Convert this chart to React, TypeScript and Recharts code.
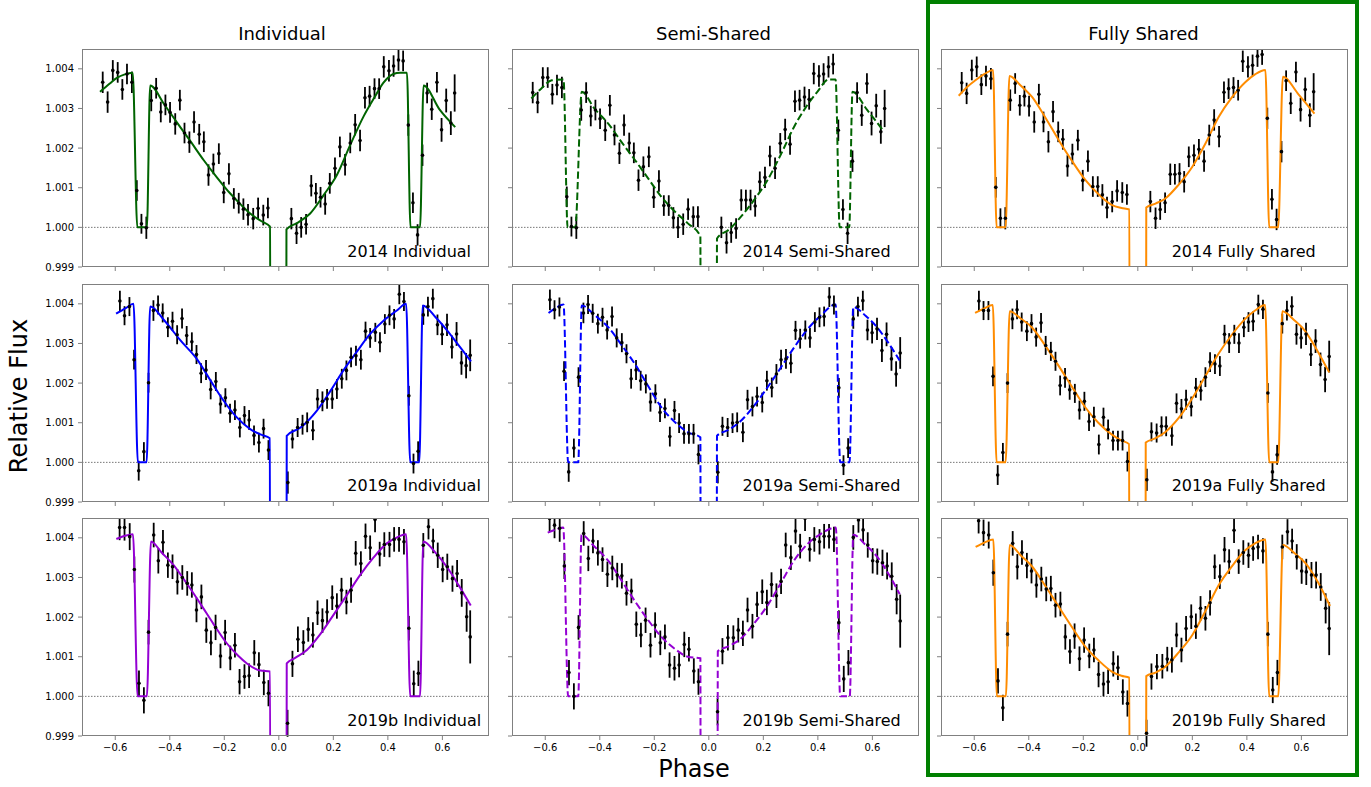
import React from "react";
import {
  ComposedChart,
  Scatter,
  Line,
  XAxis,
  YAxis,
  ErrorBar,
  ReferenceLine,
} from "recharts";

// ---- phases (shared by the three fits of one observing season) ----
const phase2014 = [
  -0.646, -0.628, -0.609, -0.591, -0.574, -0.557, -0.539, -0.521, -0.504, -0.486,
  -0.468, -0.45, -0.433, -0.416, -0.399, -0.38, -0.363, -0.346, -0.328, -0.311,
  -0.292, -0.275, -0.258, -0.24, -0.22, -0.202, -0.183, -0.165, -0.147, -0.13,
  -0.113, -0.094, -0.076, -0.057, -0.04,
  0.046, 0.065, 0.082, 0.1, 0.119, 0.136, 0.153, 0.17, 0.187, 0.206,
  0.224, 0.243, 0.262, 0.28, 0.298, 0.316, 0.333, 0.351, 0.368, 0.385,
  0.404, 0.421, 0.439, 0.456, 0.475, 0.492, 0.509, 0.527, 0.544, 0.561,
  0.58, 0.597, 0.614, 0.631, 0.645,
];
const phase2019a = [
  -0.583, -0.566, -0.548, -0.531, -0.514, -0.495, -0.478, -0.46, -0.443, -0.426,
  -0.407, -0.39, -0.373, -0.355, -0.338, -0.319, -0.302, -0.285, -0.267, -0.25,
  -0.231, -0.214, -0.196, -0.179, -0.161, -0.143, -0.126, -0.109, -0.091, -0.073,
  -0.056, -0.038,
  0.033, 0.05, 0.069, 0.087, 0.104, 0.125, 0.142, 0.16, 0.177, 0.196,
  0.213, 0.231, 0.248, 0.265, 0.283, 0.301, 0.318, 0.335, 0.354, 0.371,
  0.389, 0.406, 0.423, 0.442, 0.459, 0.477, 0.494, 0.511, 0.53, 0.547,
  0.565, 0.582, 0.599, 0.617, 0.635, 0.652, 0.67, 0.687, 0.702,
];
const phase2019b = [
  -0.584, -0.566, -0.547, -0.53, -0.513, -0.495, -0.478, -0.459, -0.442, -0.425,
  -0.407, -0.39, -0.372, -0.354, -0.336, -0.319, -0.302, -0.284, -0.266, -0.249,
  -0.232, -0.214, -0.197, -0.178, -0.161, -0.144, -0.126, -0.109, -0.09, -0.073,
  -0.055, -0.038,
  0.032, 0.05, 0.07, 0.09, 0.108, 0.125, 0.142, 0.16, 0.177, 0.196,
  0.213, 0.23, 0.248, 0.265, 0.282, 0.301, 0.318, 0.335, 0.353, 0.37,
  0.387, 0.406, 0.423, 0.441, 0.459, 0.477, 0.495, 0.512, 0.53, 0.549,
  0.566, 0.583, 0.601, 0.618, 0.637, 0.654, 0.671, 0.689, 0.702,
];

// ---- error bars ----
const err2014 = [
  0.00027, 0.00027, 0.00026, 0.00026, 0.00026, 0.00026, 0.00027, 0.00026, 0.00025, 0.00028,
  0.00027, 0.00026, 0.00026, 0.00026, 0.00026, 0.00027, 0.00026, 0.00026, 0.00027, 0.00027,
  0.00026, 0.00026, 0.00027, 0.00026, 0.00026, 0.00027, 0.00027, 0.00026, 0.00026, 0.00027,
  0.00027, 0.00027, 0.00027, 0.00026, 0.00026,
  0.00027, 0.00027, 0.00026, 0.00026, 0.00027, 0.00026, 0.00026, 0.00027, 0.00026, 0.00027,
  0.00026, 0.00027, 0.00026, 0.00027, 0.00027, 0.00027, 0.00026, 0.00026, 0.00026, 0.00027,
  0.00027, 0.00027, 0.00027, 0.00026, 0.00027, 0.00026, 0.00027, 0.00027, 0.00026, 0.00027,
  0.00026, 0.0003, 0.0003, 0.0003, 0.00047,
];
const err2019a = [
  0.00026, 0.00024, 0.00024, 0.00025, 0.00025, 0.00024, 0.00025, 0.00026, 0.00024, 0.00024,
  0.00025, 0.00024, 0.00024, 0.00025, 0.00024, 0.00024, 0.00024, 0.00025, 0.00025, 0.00025,
  0.00024, 0.00024, 0.00024, 0.00024, 0.00025, 0.00025, 0.00024, 0.00025, 0.00025, 0.00025,
  0.00025, 0.00025,
  0.00028, 0.00024, 0.00024, 0.00025, 0.00025, 0.00025, 0.00025, 0.00025, 0.00025, 0.00025,
  0.00025, 0.00025, 0.00025, 0.00025, 0.00025, 0.00025, 0.00024, 0.00025, 0.00024, 0.00025,
  0.00025, 0.00025, 0.00025, 0.00025, 0.00024, 0.00025, 0.00025, 0.00025, 0.00025, 0.00025,
  0.00025, 0.00026, 0.00027, 0.00028, 0.00029, 0.0003, 0.0003, 0.00032, 0.0004,
];
const err2019b = [
  0.00032, 0.00033, 0.00034, 0.00033, 0.00032, 0.00033, 0.00031, 0.00031, 0.00032, 0.00031,
  0.00032, 0.00031, 0.00032, 0.00031, 0.00031, 0.00032, 0.00031, 0.00031, 0.00032, 0.00031,
  0.00032, 0.00031, 0.00032, 0.00031, 0.00031, 0.00032, 0.00031, 0.00031, 0.00032, 0.00031,
  0.00032, 0.00033,
  0.00034, 0.00033, 0.00032, 0.00031, 0.00031, 0.00032, 0.00031, 0.00031, 0.00032, 0.00031,
  0.00032, 0.00031, 0.00031, 0.00032, 0.00031, 0.00031, 0.00032, 0.00031, 0.00032, 0.00031,
  0.00031, 0.00032, 0.00031, 0.00031, 0.00032, 0.00031, 0.00033, 0.00032, 0.00031, 0.00032,
  0.00031, 0.00032, 0.00032, 0.00033, 0.00033, 0.00034, 0.00035, 0.00038, 0.00067,
];

// ---- detrended fluxes ----
const flux2014Individual = [
  1.00366, 1.00316, 1.00396, 1.00391, 1.00348, 1.00387, 1.00366, 1.00093, 1.00009, 0.99999,
  1.0032, 1.00351, 1.00291, 1.00309, 1.0029, 1.00261, 1.00321, 1.00238, 1.00215, 1.00266,
  1.00235, 1.00216, 1.00132, 1.0016, 1.00186, 1.00088, 1.00135, 1.00073, 1.00061, 1.00046,
  1.00032, 1.00022, 1.00048, 1.00031, 1.00049,
  1.00022, 0.99985, 1.0, 1.00008, 1.00105, 1.00086, 1.00076, 1.00059, 1.00111, 1.00149,
  1.00203, 1.00158, 1.00213, 1.00259, 1.00219, 1.00327, 1.00331, 1.0035, 1.0035, 1.00405,
  1.00395, 1.00407, 1.00422, 1.0042, 1.00258, 1.00062, 0.99981, 1.00182, 1.00339, 1.00298,
  1.00366, 1.00246, 1.0032, 1.00263, 1.00339,
];
const flux2014Semi = [
  1.0034, 1.00315, 1.00378, 1.00378, 1.00336, 1.00359, 1.00353, 1.00077, 1.00002, 0.99999,
  1.00296, 1.0034, 1.00281, 1.00296, 1.00274, 1.00245, 1.00308, 1.00233, 1.00187, 1.00258,
  1.00213, 1.00188, 1.00119, 1.00153, 1.00178, 1.00076, 1.00117, 1.00055, 1.00055, 1.00024,
  1.0, 1.00008, 1.00046, 1.00027, 1.00027,
  1.0, 0.99961, 0.99987, 0.99997, 1.00069, 1.00069, 1.00069, 1.00054, 1.00115, 1.00126,
  1.0018, 1.00149, 1.00212, 1.00247, 1.0021, 1.00318, 1.00321, 1.00329, 1.00323, 1.00388,
  1.00382, 1.00387, 1.00405, 1.00412, 1.00245, 1.00045, 0.99985, 1.00167, 1.0034, 1.00283,
  1.00363, 1.00262, 1.00307, 1.00241, 1.003,
];
const flux2014Fully = [
  1.00365, 1.00338, 1.00397, 1.00405, 1.0036, 1.00382, 1.00375, 1.00101, 1.00023, 1.00023,
  1.00321, 1.00363, 1.00308, 1.00331, 1.00306, 1.00266, 1.00336, 1.00266, 1.00216, 1.00292,
  1.00241, 1.00222, 1.00155, 1.00185, 1.0022, 1.00118, 1.00167, 1.00103, 1.00103, 1.00082,
  1.0005, 1.00065, 1.00092, 1.00088, 1.00083,
  1.00065, 1.00023, 1.00045, 1.00062, 1.00134, 1.00134, 1.00136, 1.00115, 1.00178, 1.00182,
  1.00197, 1.00167, 1.00233, 1.00271, 1.00229, 1.00341, 1.0035, 1.00353, 1.00346, 1.00419,
  1.00405, 1.00409, 1.00432, 1.00436, 1.00275, 1.00071, 1.0002, 1.00191, 1.0037, 1.00313,
  1.00392, 1.00297, 1.00348, 1.00283, 1.00342,
];
const flux2019aIndividual = [
  1.00407, 1.0037, 1.00393, 1.00259, 0.99979, 1.00027, 1.00201, 1.00383, 1.00397, 1.00377,
  1.00341, 1.00356, 1.00322, 1.00363, 1.0032, 1.00304, 1.00272, 1.00225, 1.00233, 1.00184,
  1.00204, 1.00147, 1.00163, 1.00124, 1.00132, 1.00088, 1.00118, 1.00107, 1.00068, 1.0005,
  1.00085, 1.00031,
  0.99949, 1.00059, 1.00088, 1.00095, 1.00101, 1.00081, 1.0016, 1.00154, 1.0016, 1.0016,
  1.00185, 1.00211, 1.00232, 1.00265, 1.00269, 1.00259, 1.00331, 1.00314, 1.00328, 1.00303,
  1.00349, 1.00371, 1.00362, 1.00424, 1.00406, 1.00168, 0.99997, 1.00028, 1.00372, 1.00393,
  1.00413, 1.00347, 1.00323, 1.00347, 1.00291, 1.00324, 1.00251, 1.00244, 1.0027,
];
const flux2019aSemi = [
  1.0041, 1.00385, 1.00392, 1.0023, 0.99976, 1.00036, 1.00215, 1.00377, 1.00398, 1.00376,
  1.0035, 1.00366, 1.00334, 1.00368, 1.00314, 1.00302, 1.00274, 1.00211, 1.00233, 1.00206,
  1.00198, 1.00152, 1.00173, 1.00126, 1.00136, 1.00065, 1.00131, 1.00099, 1.00072, 1.00072,
  1.00072, 1.0002,
  0.99975, 1.00091, 1.00088, 1.00099, 1.00101, 1.00076, 1.00158, 1.00141, 1.00166, 1.00151,
  1.00206, 1.00189, 1.00223, 1.00259, 1.00261, 1.0025, 1.00333, 1.00312, 1.00334, 1.00314,
  1.00354, 1.00366, 1.00368, 1.00417, 1.00397, 1.00188, 0.99993, 1.00036, 1.00362, 1.00393,
  1.00408, 1.00334, 1.00327, 1.00337, 1.00282, 1.00323, 1.00261, 1.00223, 1.00276,
];
const flux2019aFully = [
  1.00407, 1.00383, 1.00383, 1.00217, 0.99968, 1.00025, 1.002, 1.00362, 1.00385, 1.00354,
  1.00331, 1.0035, 1.00316, 1.00352, 1.00295, 1.0028, 1.00255, 1.00194, 1.00213, 1.00183,
  1.00174, 1.00132, 1.00154, 1.00103, 1.00115, 1.00045, 1.00114, 1.00083, 1.00055, 1.00055,
  1.00055, 1.00002,
  0.99956, 1.00077, 1.00074, 1.00091, 1.00091, 1.00067, 1.00149, 1.00135, 1.00158, 1.00141,
  1.00188, 1.00181, 1.00215, 1.00253, 1.00248, 1.00243, 1.00323, 1.00301, 1.00323, 1.00301,
  1.00341, 1.00354, 1.00356, 1.00398, 1.00386, 1.00175, 0.99976, 1.00019, 1.0035, 1.00383,
  1.00394, 1.00323, 1.00314, 1.00324, 1.00272, 1.00306, 1.00247, 1.00209, 1.00267,
];
const flux2019bIndividual = [
  1.00426, 1.00426, 1.00403, 1.0032, 1.00033, 0.9999, 1.00162, 1.00407, 1.00342, 1.00389,
  1.00331, 1.00327, 1.00289, 1.003, 1.00285, 1.00281, 1.00218, 1.00251, 1.00167, 1.00135,
  1.00174, 1.00102, 1.00161, 1.00097, 1.00129, 1.00037, 1.0005, 1.00052, 1.0011, 1.0008,
  1.00035, 1.00008,
  0.99932, 1.00082, 1.00144, 1.00136, 1.00169, 1.00155, 1.00211, 1.00191, 1.00213, 1.00249,
  1.00228, 1.00268, 1.00238, 1.00268, 1.00361, 1.00335, 1.00404, 1.00375, 1.00446, 1.00359,
  1.00383, 1.00383, 1.00396, 1.00396, 1.0039, 1.00172, 1.00032, 1.00058, 1.00381, 1.00428,
  1.00392, 1.00356, 1.0032, 1.00327, 1.00297, 1.0031, 1.00261, 1.00201, 1.0015,
];
const flux2019bSemi = [
  1.00449, 1.00432, 1.00424, 1.00329, 1.0006, 1.0, 1.00174, 1.00411, 1.00348, 1.00392,
  1.00362, 1.00345, 1.00308, 1.00324, 1.00306, 1.00304, 1.0026, 1.00266, 1.00182, 1.00155,
  1.00192, 1.00129, 1.0018, 1.00135, 1.0015, 1.00079, 1.00071, 1.00079, 1.00131, 1.00119,
  1.00064, 1.00037,
  0.99961, 1.00114, 1.00148, 1.00148, 1.00167, 1.00159, 1.00218, 1.00177, 1.00232, 1.00264,
  1.00237, 1.00282, 1.00254, 1.0029, 1.00382, 1.0035, 1.00417, 1.00379, 1.00449, 1.00371,
  1.00396, 1.0039, 1.00404, 1.00404, 1.00396, 1.00186, 1.00044, 1.00085, 1.00401, 1.00445,
  1.0042, 1.00382, 1.00342, 1.0034, 1.00337, 1.00329, 1.00303, 1.00245, 1.0019,
];
const flux2019bFully = [
  1.00443, 1.00413, 1.00407, 1.00312, 1.00039, 0.99971, 1.00157, 1.00386, 1.00327, 1.00363,
  1.0033, 1.00316, 1.00281, 1.00296, 1.00271, 1.00272, 1.0023, 1.00233, 1.0015, 1.00113,
  1.00152, 1.00095, 1.00142, 1.00102, 1.00117, 1.00055, 1.00031, 1.00037, 1.00082, 1.00072,
  1.00011, 0.99982,
  0.99907, 1.0005, 1.00075, 1.00076, 1.00094, 1.00092, 1.00155, 1.00117, 1.00171, 1.00201,
  1.00177, 1.00222, 1.00197, 1.00236, 1.00327, 1.00302, 1.0037, 1.0034, 1.00419, 1.0034,
  1.00363, 1.00356, 1.00373, 1.00377, 1.00367, 1.00157, 1.00016, 1.0006, 1.00377, 1.00415,
  1.00392, 1.00352, 1.00316, 1.00314, 1.00306, 1.00306, 1.00276, 1.00222, 1.00171,
];

// ---- best-fit models (phase, flux) ----
const model2014IndividualX = [-0.656, -0.62, -0.594, -0.565, -0.536, -0.519, -0.484, -0.472, -0.42, -0.374, -0.325, -0.276, -0.228, -0.179, -0.14, -0.105, -0.065, -0.032, -0.03, 0.026, 0.028, 0.07, 0.115, 0.165, 0.213, 0.262, 0.311, 0.35, 0.384, 0.42, 0.445, 0.47, 0.483, 0.518, 0.531, 0.59, 0.647];
const model2014IndividualY = [1.00342, 1.00363, 1.00377, 1.00386, 1.0039, 1.0, 1.0, 1.00358, 1.0031, 1.00265, 1.00218, 1.0017, 1.00127, 1.00086, 1.00058, 1.00035, 1.00016, 1.00002, 0.99, 0.99, 0.99995, 1.00012, 1.00035, 1.00082, 1.00132, 1.00208, 1.0028, 1.00327, 1.00365, 1.00387, 1.0039, 1.0039, 1.0, 1.0, 1.00358, 1.00297, 1.00253];
const model2014SemiX = [-0.651, -0.615, -0.576, -0.533, -0.518, -0.49, -0.466, -0.42, -0.369, -0.32, -0.271, -0.222, -0.174, -0.125, -0.077, -0.031, -0.029, 0.028, 0.03, 0.075, 0.118, 0.165, 0.215, 0.265, 0.313, 0.355, 0.398, 0.44, 0.465, 0.48, 0.515, 0.527, 0.58, 0.639];
const model2014SemiY = [1.00325, 1.0035, 1.00371, 1.00373, 1.0, 1.0, 1.00342, 1.003, 1.00262, 1.00215, 1.0017, 1.00123, 1.00077, 1.0004, 1.0001, 0.99978, 0.99, 0.99, 0.99972, 0.99995, 1.00027, 1.00068, 1.00119, 1.00185, 1.00254, 1.00302, 1.00342, 1.00373, 1.00373, 1.0, 1.0, 1.00342, 1.00297, 1.00245];
const model2014FullyX = [-0.657, -0.625, -0.596, -0.56, -0.531, -0.518, -0.485, -0.471, -0.43, -0.388, -0.34, -0.29, -0.24, -0.192, -0.143, -0.094, -0.06, -0.031, -0.029, 0.029, 0.031, 0.065, 0.101, 0.15, 0.2, 0.25, 0.297, 0.345, 0.395, 0.43, 0.468, 0.482, 0.515, 0.532, 0.59, 0.648];
const model2014FullyY = [1.00332, 1.00355, 1.00371, 1.00388, 1.00397, 1.0, 1.0, 1.00382, 1.00358, 1.00329, 1.00278, 1.0022, 1.00166, 1.00119, 1.00083, 1.00056, 1.00049, 1.00045, 0.99, 0.99, 1.0005, 1.0006, 1.00073, 1.00108, 1.00153, 1.00214, 1.00279, 1.00328, 1.00367, 1.00386, 1.00397, 1.0, 1.0, 1.0038, 1.00335, 1.00287];
const model2019aIndividualX = [-0.597, -0.56, -0.533, -0.517, -0.485, -0.472, -0.42, -0.36, -0.301, -0.25, -0.203, -0.155, -0.105, -0.065, -0.033, -0.031, 0.027, 0.029, 0.08, 0.139, 0.19, 0.237, 0.285, 0.335, 0.385, 0.433, 0.467, 0.482, 0.515, 0.528, 0.575, 0.617, 0.66, 0.705];
const model2019aIndividualY = [1.00375, 1.0039, 1.004, 1.0, 1.0, 1.00393, 1.00358, 1.00307, 1.00261, 1.00206, 1.00156, 1.00114, 1.00084, 1.0007, 1.00061, 0.99, 0.99, 1.00067, 1.00088, 1.0013, 1.00181, 1.00232, 1.00278, 1.00324, 1.00358, 1.00383, 1.004, 1.0, 1.0, 1.00396, 1.00366, 1.00333, 1.00295, 1.00255];
const model2019aSemiX = [-0.588, -0.56, -0.533, -0.516, -0.479, -0.466, -0.42, -0.369, -0.32, -0.271, -0.222, -0.174, -0.125, -0.077, -0.031, -0.029, 0.028, 0.03, 0.075, 0.118, 0.165, 0.215, 0.265, 0.313, 0.36, 0.41, 0.465, 0.482, 0.516, 0.53, 0.575, 0.617, 0.66, 0.7];
const model2019aSemiY = [1.00377, 1.0039, 1.00398, 1.0, 1.0, 1.00396, 1.00372, 1.00341, 1.00296, 1.00248, 1.00192, 1.00139, 1.00102, 1.00076, 1.00063, 0.99, 0.99, 1.00067, 1.00083, 1.00105, 1.00142, 1.00189, 1.0024, 1.0029, 1.00334, 1.0037, 1.00398, 1.0, 1.0, 1.00392, 1.0037, 1.00341, 1.003, 1.00257];
const model2019aFullyX = [-0.597, -0.565, -0.532, -0.518, -0.485, -0.47, -0.43, -0.389, -0.34, -0.291, -0.242, -0.193, -0.145, -0.095, -0.06, -0.032, -0.03, 0.027, 0.029, 0.065, 0.1, 0.15, 0.198, 0.248, 0.296, 0.345, 0.394, 0.43, 0.467, 0.482, 0.515, 0.53, 0.575, 0.613, 0.66, 0.702];
const model2019aFullyY = [1.00377, 1.00388, 1.00397, 1.0, 1.0, 1.00381, 1.00363, 1.00341, 1.00295, 1.00244, 1.00191, 1.00139, 1.001, 1.0007, 1.00055, 1.00046, 0.99, 0.99, 1.0005, 1.00061, 1.00076, 1.00112, 1.0016, 1.00218, 1.00274, 1.00322, 1.00362, 1.00383, 1.00397, 1.0, 1.0, 1.00381, 1.00358, 1.00332, 1.0028, 1.00227];
const model2019bIndividualX = [-0.596, -0.565, -0.535, -0.518, -0.484, -0.469, -0.43, -0.386, -0.337, -0.288, -0.24, -0.191, -0.15, -0.117, -0.068, -0.032, -0.03, 0.027, 0.029, 0.06, 0.103, 0.15, 0.2, 0.25, 0.298, 0.347, 0.396, 0.43, 0.467, 0.482, 0.518, 0.53, 0.575, 0.616, 0.66, 0.704];
const model2019bIndividualY = [1.00397, 1.00405, 1.00409, 1.0, 1.0, 1.00391, 1.00363, 1.00331, 1.00284, 1.00234, 1.00183, 1.00134, 1.00103, 1.00083, 1.00065, 1.00063, 0.99, 0.99, 1.00083, 1.00097, 1.00117, 1.00155, 1.00205, 1.00256, 1.00306, 1.0035, 1.00386, 1.004, 1.00409, 1.0, 1.0, 1.00391, 1.00362, 1.00327, 1.0028, 1.00229];
const model2019bSemiX = [-0.591, -0.56, -0.534, -0.516, -0.479, -0.467, -0.42, -0.37, -0.32, -0.27, -0.222, -0.174, -0.125, -0.077, -0.031, -0.029, 0.031, 0.033, 0.075, 0.118, 0.165, 0.216, 0.265, 0.313, 0.36, 0.411, 0.466, 0.482, 0.517, 0.53, 0.575, 0.618, 0.66, 0.7];
const model2019bSemiY = [1.00413, 1.00421, 1.00426, 1.0, 1.0, 1.00408, 1.00378, 1.00343, 1.00292, 1.00239, 1.00192, 1.0015, 1.0012, 1.001, 1.00096, 0.99, 0.99, 1.00114, 1.00127, 1.00146, 1.00183, 1.0023, 1.00287, 1.00343, 1.00383, 1.0041, 1.00426, 1.0, 1.0, 1.00408, 1.00382, 1.00352, 1.00308, 1.00258];
const model2019bFullyX = [-0.595, -0.563, -0.53, -0.517, -0.484, -0.47, -0.43, -0.387, -0.338, -0.29, -0.24, -0.192, -0.143, -0.094, -0.06, -0.031, -0.029, 0.029, 0.031, 0.065, 0.101, 0.15, 0.2, 0.25, 0.297, 0.345, 0.395, 0.43, 0.468, 0.482, 0.515, 0.532, 0.575, 0.615, 0.66, 0.705];
const model2019bFullyY = [1.00377, 1.00388, 1.00396, 1.0, 1.0, 1.00382, 1.00356, 1.00327, 1.00277, 1.00226, 1.00173, 1.00125, 1.0009, 1.00062, 1.00052, 1.00047, 0.99, 0.99, 1.00051, 1.0006, 1.00075, 1.00111, 1.00155, 1.00218, 1.00281, 1.00328, 1.00369, 1.00386, 1.00396, 1.0, 1.0, 1.00382, 1.00361, 1.00336, 1.00289, 1.00228];

const columnTitles = ["Individual", "Semi-Shared", "Fully Shared"];
const xTicks = [-0.6, -0.4, -0.2, 0, 0.2, 0.4, 0.6];
const yTicks = [0.999, 1.0, 1.001, 1.002, 1.003, 1.004];

// layout (page pixels)
const PLOT_W = 407;
const PLOT_H = 218;
const COL_LEFT = [82, 512, 941];
const ROW_TOP = [49, 283.5, 518];
const TITLE_X = [282, 713.5, 1143.5];
const LABEL_DX = [265.3, 230.6, 230.7];
const AXIS_W = 60;
const AXIS_H = 30;
const FRAME = "#808080";

const GREEN = "#006400";
const BLUE = "#0000ff";
const VIOLET = "#9400d3";
const ORANGE = "#ff8c00";

const panels = [
  { row: 0, col: 0, label: "2014 Individual", phase: phase2014, flux: flux2014Individual, err: err2014, mx: model2014IndividualX, my: model2014IndividualY, color: GREEN, dashed: false },
  { row: 0, col: 1, label: "2014 Semi-Shared", phase: phase2014, flux: flux2014Semi, err: err2014, mx: model2014SemiX, my: model2014SemiY, color: GREEN, dashed: true },
  { row: 0, col: 2, label: "2014 Fully Shared", phase: phase2014, flux: flux2014Fully, err: err2014, mx: model2014FullyX, my: model2014FullyY, color: ORANGE, dashed: false },
  { row: 1, col: 0, label: "2019a Individual", phase: phase2019a, flux: flux2019aIndividual, err: err2019a, mx: model2019aIndividualX, my: model2019aIndividualY, color: BLUE, dashed: false },
  { row: 1, col: 1, label: "2019a Semi-Shared", phase: phase2019a, flux: flux2019aSemi, err: err2019a, mx: model2019aSemiX, my: model2019aSemiY, color: BLUE, dashed: true },
  { row: 1, col: 2, label: "2019a Fully Shared", phase: phase2019a, flux: flux2019aFully, err: err2019a, mx: model2019aFullyX, my: model2019aFullyY, color: ORANGE, dashed: false },
  { row: 2, col: 0, label: "2019b Individual", phase: phase2019b, flux: flux2019bIndividual, err: err2019b, mx: model2019bIndividualX, my: model2019bIndividualY, color: VIOLET, dashed: false },
  { row: 2, col: 1, label: "2019b Semi-Shared", phase: phase2019b, flux: flux2019bSemi, err: err2019b, mx: model2019bSemiX, my: model2019bSemiY, color: VIOLET, dashed: true },
  { row: 2, col: 2, label: "2019b Fully Shared", phase: phase2019b, flux: flux2019bFully, err: err2019b, mx: model2019bFullyX, my: model2019bFullyY, color: ORANGE, dashed: false },
];

const fmtX = (v: number) => (v < 0 ? "\u2212" : "") + Math.abs(v).toFixed(1);
const fmtY = (v: number) => v.toFixed(3);
const blank = () => "";

const Dot = (props: any) => <circle cx={props.cx} cy={props.cy} r={1.8} fill="#000" />;

function Panel({ p }: { p: (typeof panels)[number] }) {
  const points = p.phase
    .map((x, i) => ({ x, y: p.flux[i], err: p.err[i] }))
    .filter((d) => d.y !== undefined);
  const model = p.mx.map((x, i) => ({ x, y: p.my[i] }));
  const showX = p.row === 2;
  const showY = p.col === 0;
  const left = COL_LEFT[p.col];
  const top = ROW_TOP[p.row];
  return (
    <div style={{ position: "absolute", left: left - AXIS_W, top }}>
      <ComposedChart
        width={PLOT_W + AXIS_W}
        height={PLOT_H + AXIS_H}
        margin={{ top: 0, right: 0, bottom: 0, left: 0 }}
      >
        <XAxis
          type="number"
          dataKey="x"
          domain={[-0.722, 0.771]}
          allowDataOverflow
          ticks={xTicks}
          interval={0}
          tickFormatter={showX ? fmtX : blank}
          axisLine={false}
          stroke={FRAME}
          tickSize={4}
          tickMargin={4}
          tick={{ fontSize: 10, fill: "#000" }}
          height={AXIS_H}
        />
        <YAxis
          type="number"
          dataKey="y"
          domain={[0.999, 1.0045]}
          allowDataOverflow
          ticks={yTicks}
          interval={0}
          tickFormatter={showY ? fmtY : blank}
          axisLine={false}
          stroke={FRAME}
          tickSize={4}
          tickMargin={4}
          tick={{ fontSize: 10, fill: "#000" }}
          width={AXIS_W}
        />
        <ReferenceLine y={1} stroke="#555" strokeWidth={0.8} strokeDasharray="1.5 1.5" />
        <Scatter data={points} dataKey="y" shape={Dot} isAnimationActive={false}>
          <ErrorBar dataKey="err" direction="y" width={0} stroke="#000" strokeWidth={1.8} isAnimationActive={false} />
        </Scatter>
        <Line
          data={model}
          dataKey="y"
          type="monotone"
          stroke={p.color}
          strokeWidth={2}
          strokeDasharray={p.dashed ? "7.4 3.2" : undefined}
          dot={false}
          activeDot={false}
          isAnimationActive={false}
        />
      </ComposedChart>
      <div
        style={{
          position: "absolute",
          left: AXIS_W,
          top: 0,
          width: PLOT_W,
          height: PLOT_H,
          border: `1px solid ${FRAME}`,
          boxSizing: "border-box",
          pointerEvents: "none",
        }}
      />
    </div>
  );
}

export default function App() {
  return (
    <div
      style={{
        position: "absolute",
        left: 0,
        top: 0,
        width: 1371,
        height: 787,
        background: "#fff",
        fontFamily: "'DejaVu Sans', sans-serif",
      }}
    >
      {panels.map((p) => (
        <Panel key={p.label} p={p} />
      ))}
      <svg
        width={1371}
        height={787}
        style={{ position: "absolute", left: 0, top: 0, pointerEvents: "none" }}
        fontFamily="'DejaVu Sans', sans-serif"
      >
        {columnTitles.map((t, c) => (
          <text key={t} x={TITLE_X[c]} y={40} fontSize={18} textAnchor="middle" fill="#000">
            {t}
          </text>
        ))}
        {panels.map((p) => (
          <text
            key={p.label}
            x={COL_LEFT[p.col] + LABEL_DX[p.col]}
            y={ROW_TOP[p.row] + PLOT_H - 10.5}
            fontSize={16}
            textAnchor="start"
            fill="#000"
          >
            {p.label}
          </text>
        ))}
        <text x={694} y={777} fontSize={24} textAnchor="middle" fill="#000">
          Phase
        </text>
        <text x={0} y={0} fontSize={24} textAnchor="middle" fill="#000" transform="translate(27, 396) rotate(-90)">
          Relative Flux
        </text>
      </svg>
      <div
        style={{
          position: "absolute",
          left: 926,
          top: 0,
          width: 433,
          height: 777,
          border: "4px solid #008000",
          boxSizing: "border-box",
          pointerEvents: "none",
        }}
      />
    </div>
  );
}
